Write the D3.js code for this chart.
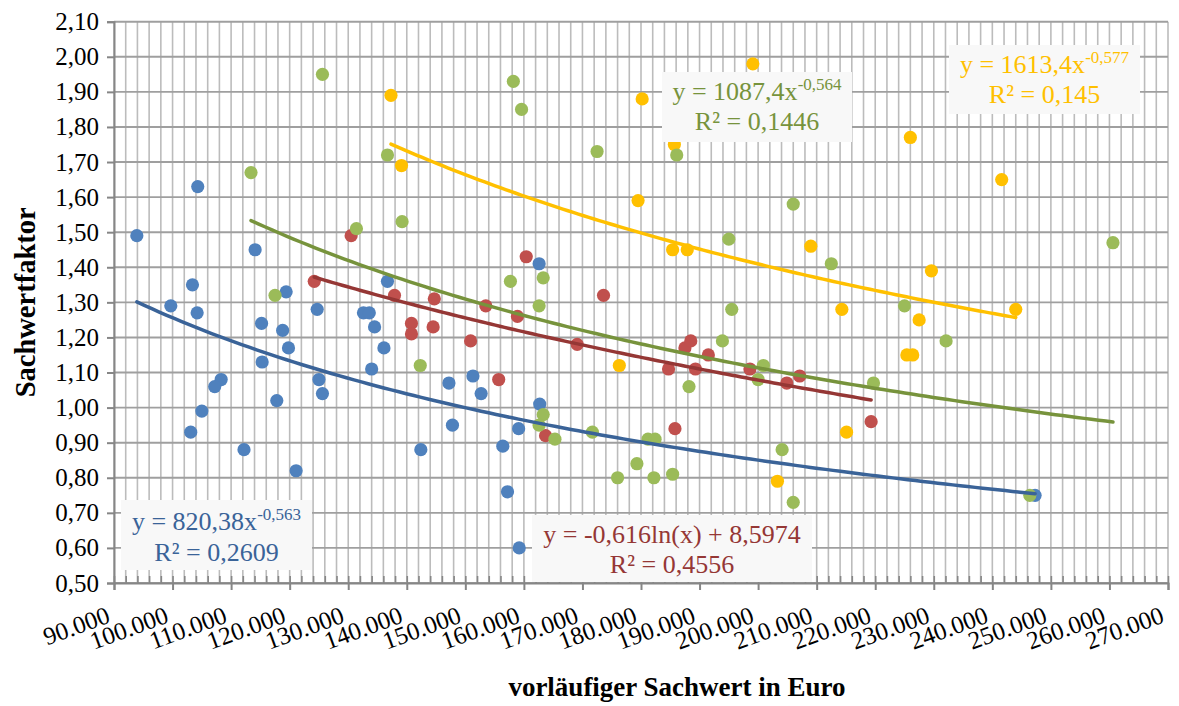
<!DOCTYPE html>
<html>
<head>
<meta charset="utf-8">
<script src="https://cdn.jsdelivr.net/npm/d3@7"></script>
<style>
  html, body { margin: 0; padding: 0; background: #ffffff; }
  svg { display: block; }
</style>
</head>
<body>
<svg id="chart" width="1179" height="706"></svg>
<script>
// ---------- DATA ----------
const xDomain = [90000, 270000];
const yDomain = [0.5, 2.1];
const xTickValues = d3.range(90000, 270001, 10000);
const xMinorValues = d3.range(90000, 270001, 2000);
const yTickValues = d3.range(0, 17).map(i => +(0.5 + i * 0.1).toFixed(2));

const blueData = [[93900,1.49],[104300,1.63],[99700,1.29],[103400,1.35],[104200,1.27],[108300,1.08],[107200,1.06],[105000,0.99],[103100,0.93],[114100,1.45],[115200,1.24],[115300,1.13],[118800,1.22],[119800,1.17],[119400,1.33],[117800,1.02],[112200,0.88],[121100,0.82],[124700,1.28],[125000,1.08],[125600,1.04],[132600,1.27],[133600,1.27],[134000,1.11],[134500,1.23],[136100,1.17],[136700,1.36],[142400,0.88],[147200,1.07],[147800,0.95],[151300,1.09],[152700,1.04],[156400,0.89],[157200,0.76],[159100,0.94],[159200,0.60],[162700,1.01],[162600,1.41],[247300,0.75]];
const redData = [[124200,1.36],[130500,1.49],[137900,1.32],[140800,1.24],[140800,1.21],[144500,1.23],[144700,1.31],[153500,1.29],[150900,1.19],[155700,1.08],[158900,1.26],[160400,1.43],[163700,0.92],[169100,1.18],[173600,1.32],[184700,1.11],[185800,0.94],[187500,1.17],[188500,1.19],[189300,1.11],[191500,1.15],[198600,1.11],[204900,1.07],[207100,1.09],[219300,0.96]];
const greenData = [[113400,1.67],[125600,1.95],[117500,1.32],[131400,1.51],[136700,1.72],[139200,1.53],[142300,1.12],[157700,1.36],[158200,1.93],[159600,1.85],[162600,1.29],[163300,1.37],[163300,0.98],[162600,0.95],[165300,0.91],[172500,1.73],[171700,0.93],[176000,0.80],[179300,0.84],[181200,0.91],[182400,0.91],[182200,0.80],[185400,0.81],[186100,1.72],[195000,1.48],[188200,1.06],[193900,1.19],[195500,1.28],[200900,1.12],[200000,1.08],[204100,0.88],[206000,0.73],[206000,1.58],[212500,1.41],[219700,1.07],[225000,1.29],[232100,1.19],[246400,0.75],[260600,1.47]];
const orangeData = [[137300,1.89],[139100,1.69],[180200,1.88],[179500,1.59],[199100,1.98],[185700,1.75],[185400,1.45],[187900,1.45],[209000,1.46],[176300,1.12],[203300,0.79],[215100,0.93],[214300,1.28],[227500,1.25],[225400,1.15],[226400,1.15],[226000,1.77],[241600,1.65],[229600,1.39],[244000,1.28]];

// trendline coefficients (as shown on chart)
const blueTrend = {type: "power", a: 820.38, b: -0.563};
const redTrend = {type: "log", a: -0.616, b: 8.5974};
const greenTrend = {type: "power", a: 1087.4, b: -0.564};
const orangeTrend = {type: "power", a: 1613.4, b: -0.577};

const labelLines = {
  blue:   ["y = 820,38x", "-0,563", "R² = 0,2609"],
  red:    ["y = -0,616ln(x) + 8,5974", "", "R² = 0,4556"],
  green:  ["y = 1087,4x", "-0,564", "R² = 0,1446"],
  orange: ["y = 1613,4x", "-0,577", "R² = 0,145"]
};

const xTitle = "vorläufiger Sachwert in Euro";
const yTitle = "Sachwertfaktor";

// ---------- LAYOUT ----------
const L = 114, R = 1168, T = 21.7, B = 583;
const svg = d3.select("#chart");
const x = d3.scaleLinear().domain(xDomain).range([L, R]);
const y = d3.scaleLinear().domain(yDomain).range([B, T]);
const loc = d3.formatLocale({decimal: ",", thousands: ".", grouping: [3], currency: ["", "€"]});
const fx = loc.format(",.0f");
const fy = loc.format(".2f");
const serif = "'Liberation Serif', 'Times New Roman', serif";

// gridlines
const grid = svg.append("g");
grid.selectAll("line.vx").data(xMinorValues).join("line")
  .attr("x1", d => x(d)).attr("x2", d => x(d)).attr("y1", T).attr("y2", B)
  .attr("stroke", "#bcbcbc").attr("stroke-width", 1.6);
grid.selectAll("line.hy").data(yTickValues).join("line")
  .attr("x1", L).attr("x2", R).attr("y1", d => y(d)).attr("y2", d => y(d))
  .attr("stroke", "#9f9f9f").attr("stroke-width", 1.9);

// axes
const yAxis = d3.axisLeft(y).tickValues(yTickValues).tickFormat(fy).tickSize(7).tickPadding(8);
const gy = svg.append("g").attr("transform", `translate(${L},0)`).call(yAxis);
gy.select(".domain").attr("stroke", "#868686").attr("stroke-width", 2);
gy.selectAll(".tick line").attr("stroke", "#868686").attr("stroke-width", 2);
gy.selectAll(".tick text").attr("font-family", serif).attr("font-size", 25).attr("fill", "#000");

const xAxisMinor = d3.axisBottom(x).tickValues(xMinorValues).tickSize(-7).tickFormat("");
const gxm = svg.append("g").attr("transform", `translate(0,${B})`).call(xAxisMinor);
gxm.select(".domain").remove();
gxm.selectAll(".tick line").attr("stroke", "#868686").attr("stroke-width", 1.6);

const xAxis = d3.axisBottom(x).tickValues(xTickValues).tickFormat(fx).tickSize(7);
const gx = svg.append("g").attr("transform", `translate(0,${B})`).call(xAxis);
gx.select(".domain").attr("stroke", "#868686").attr("stroke-width", 2);
gx.selectAll(".tick line").attr("stroke", "#868686").attr("stroke-width", 2);
gx.selectAll(".tick text")
  .attr("font-family", serif).attr("font-size", 25).attr("fill", "#000")
  .attr("text-anchor", "end").attr("y", 0).attr("dy", 0)
  .attr("transform", "translate(-3,39) rotate(-20)");

// points
const series = [
  {data: orangeData, color: "#FFC000"},
  {data: blueData, color: "#4F81BD"},
  {data: redData, color: "#C0504D"},
  {data: greenData, color: "#9BBB59"}
];
series.forEach(s => {
  svg.append("g").selectAll("circle").data(s.data).join("circle")
    .attr("cx", d => x(d[0])).attr("cy", d => y(d[1])).attr("r", 6.6)
    .attr("fill", s.color);
});

// trendlines
function trendPoints(data, t) {
  const ext = d3.extent(data, d => d[0]);
  const n = 120;
  return d3.range(n + 1).map(i => {
    const xv = ext[0] + (ext[1] - ext[0]) * i / n;
    const yv = t.type === "power" ? t.a * Math.pow(xv, t.b) : t.a * Math.log(xv) + t.b;
    return [xv, yv];
  });
}
const line = d3.line().x(d => x(d[0])).y(d => y(d[1])).curve(d3.curveLinear);
[
  {data: blueData, t: blueTrend, color: "#3A6398"},
  {data: redData, t: redTrend, color: "#953735"},
  {data: greenData, t: greenTrend, color: "#77933C"},
  {data: orangeData, t: orangeTrend, color: "#FFC000"}
].forEach(s => {
  svg.append("path").attr("d", line(trendPoints(s.data, s.t)))
    .attr("fill", "none").attr("stroke", s.color).attr("stroke-width", 3.5)
    .attr("stroke-linecap", "round");
});

// trendline labels
const boxes = [
  {key: "blue", x0: 121, y0: 500, x1: 312, y1: 570, b1: 530, b2: 561, color: "#3A6398"},
  {key: "red", x0: 532, y0: 515, x1: 812, y1: 582, b1: 543, b2: 573, color: "#953735"},
  {key: "green", x0: 662, y0: 72, x1: 852, y1: 142, b1: 100, b2: 130, color: "#77933C"},
  {key: "orange", x0: 949, y0: 45, x1: 1140, y1: 114, b1: 73, b2: 103, color: "#FFC000"}
];
boxes.forEach(bx => {
  const g = svg.append("g");
  g.append("rect").attr("x", bx.x0).attr("y", bx.y0)
    .attr("width", bx.x1 - bx.x0).attr("height", bx.y1 - bx.y0)
    .attr("fill", "#f8f8f8");
  const cx = (bx.x0 + bx.x1) / 2;
  const lines = labelLines[bx.key];
  const t1 = g.append("text").attr("x", cx).attr("y", bx.b1)
    .attr("text-anchor", "middle").attr("font-family", serif).attr("font-size", 26)
    .attr("fill", bx.color);
  t1.append("tspan").text(lines[0]);
  if (lines[1]) t1.append("tspan").attr("dy", -10).attr("font-size", 17).text(lines[1]);
  g.append("text").attr("x", cx).attr("y", bx.b2)
    .attr("text-anchor", "middle").attr("font-family", serif).attr("font-size", 26)
    .attr("fill", bx.color).text(lines[2]);
});

// axis titles
svg.append("text").attr("x", 677).attr("y", 696).attr("text-anchor", "middle")
  .attr("font-family", serif).attr("font-size", 27).attr("font-weight", "bold")
  .attr("fill", "#000").text(xTitle);
svg.append("text").attr("transform", `translate(35,${(T + B) / 2}) rotate(-90)`)
  .attr("text-anchor", "middle")
  .attr("font-family", serif).attr("font-size", 28.5).attr("font-weight", "bold")
  .attr("fill", "#000").text(yTitle);
</script>
</body>
</html>
